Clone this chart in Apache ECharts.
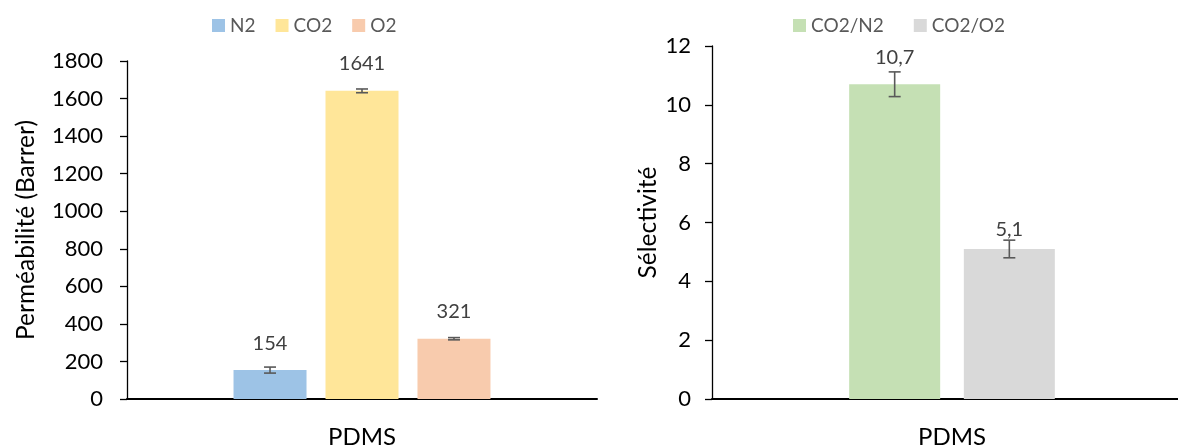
<!DOCTYPE html>
<html><head><meta charset="utf-8">
<script src="https://cdn.jsdelivr.net/npm/echarts@6/dist/echarts.min.js"></script>
<style>html,body{margin:0;padding:0;background:#fff}#c{width:1178px;height:446px}</style>
</head><body><div id="c"></div>
<script>
// Data
const categories = ['PDMS'];
const permNames = ['N2', 'CO2', 'O2'];
const permValues = [154, 1641, 321];
const permErrors = [16, 10, 6];
const permTicks = [0, 200, 400, 600, 800, 1000, 1200, 1400, 1600, 1800];
const selNames = ['CO2/N2', 'CO2/O2'];
const selValues = [10.7, 5.1];
const selErrors = [0.42, 0.3];
const selTicks = [0, 2, 4, 6, 8, 10, 12];

const permColors = ['#9DC3E6', '#FFE699', '#F8CBAD'];
const selColors = ['#C5E0B4', '#D9D9D9'];
const FONT = 'Lato';

function fmt(v){ return String(v).replace('.', ','); }

function barSeries(names, values, colors, axisIdx, bw, gap, dists){
  return names.map((n, i) => ({
    name: n, type: 'bar', xAxisIndex: axisIdx, yAxisIndex: axisIdx,
    data: [values[i]], barWidth: bw, barGap: gap,
    itemStyle: {color: colors[i]},
    label: {show: true, position: 'top', distance: dists[i], color: '#404040', fontSize: 20, fontFamily: FONT,
      formatter: p => fmt(p.value)},
    emphasis: {disabled: true}
  }));
}

function errSeries(values, errors, axisIdx, bw, gapPx){
  const n = values.length;
  return {
    type: 'custom', xAxisIndex: axisIdx, yAxisIndex: axisIdx, silent: true, z: 10,
    data: values.map((v, i) => [0, v - errors[i], v + errors[i], i]),
    renderItem: (params, api) => {
      const idx = api.value(3);
      const total = n * bw + (n - 1) * gapPx;
      const off = -total / 2 + idx * (bw + gapPx) + bw / 2;
      const x = api.coord([api.value(0), 0])[0] + off;
      const yLo = api.coord([0, api.value(1)])[1];
      const yHi = api.coord([0, api.value(2)])[1];
      const st = {stroke: '#595959', lineWidth: 1.6};
      return {type: 'group', children: [
        {type: 'line', shape: {x1: x, y1: yLo, x2: x, y2: yHi}, style: st},
        {type: 'line', shape: {x1: x - 6, y1: yLo, x2: x + 6, y2: yLo}, style: st},
        {type: 'line', shape: {x1: x - 6, y1: yHi, x2: x + 6, y2: yHi}, style: st}
      ]};
    }
  };
}

function yAxis(idx, ticks, name, gap, margin){
  return {
    type: 'value', gridIndex: idx, min: ticks[0], max: ticks[ticks.length-1],
    interval: ticks[1] - ticks[0],
    name: name, nameLocation: 'middle', nameGap: gap,
    nameTextStyle: {fontSize: 24.5, color: '#000', fontFamily: FONT},
    axisLine: {show: true, lineStyle: {color: '#000', width: 1.3}},
    axisTick: {show: true, length: 7, lineStyle: {color: '#000', width: 1.3}},
    axisLabel: {fontSize: 22, color: '#000', fontFamily: FONT, margin: margin, formatter: v => String(v)},
    splitLine: {show: false}
  };
}
function xAxis(idx){
  return {
    type: 'category', gridIndex: idx, data: categories, position: 'bottom',
    axisLine: {onZero: false, lineStyle: {color: '#000', width: 2}},
    axisTick: {show: false},
    axisLabel: {fontSize: 24, color: '#000', fontFamily: FONT, margin: 26}
  };
}

const chart = echarts.init(document.getElementById('c'));
const legendText = {fontSize: 19, color: '#595959', fontFamily: FONT};
chart.setOption({
  animation: false,
  textStyle: {fontFamily: FONT},
  legend: [
    {data: permNames, left: 207, top: 11, itemWidth: 13, itemHeight: 13, itemGap: 20,
      textStyle: legendText, icon: 'rect', selectedMode: false},
    {data: selNames, left: 788, top: 11, itemWidth: 13, itemHeight: 13, itemGap: 30,
      textStyle: legendText, icon: 'rect', selectedMode: false}
  ],
  grid: [
    {left: 127, top: 61, width: 470, height: 338, containLabel: false, outerBoundsMode: 'none'},
    {left: 712, top: 46, width: 480, height: 353, containLabel: false, outerBoundsMode: 'none'}
  ],
  xAxis: [xAxis(0), xAxis(1)],
  yAxis: [
    yAxis(0, permTicks, 'Perméabilité (Barrer)', 88, 24),
    yAxis(1, selTicks, 'Sélectivité', 51, 21)
  ],
  series: [
    ...barSeries(permNames, permValues, permColors, 0, 73, '26%', [17, 17, 17]),
    errSeries(permValues, permErrors, 0, 73, 73 * 0.26),
    ...barSeries(selNames, selValues, selColors, 1, 91, '26%', [17, 9]),
    errSeries(selValues, selErrors, 1, 91, 91 * 0.26)
  ]
});
</script></body></html>
